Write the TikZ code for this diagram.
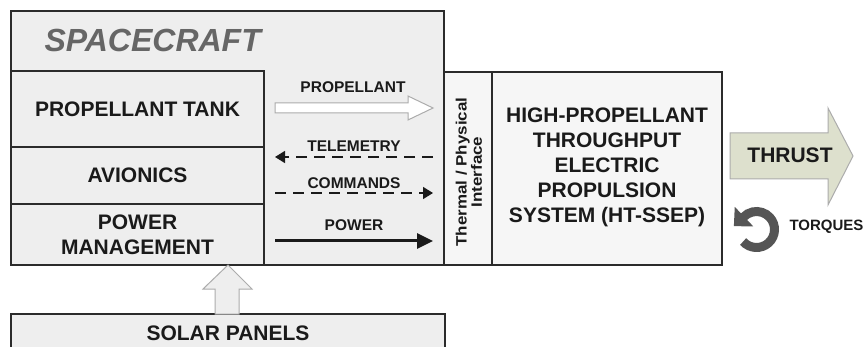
\documentclass[tikz,border=0pt]{standalone}
\usepackage{fontspec}
\setmainfont{Liberation Sans}
\usetikzlibrary{arrows.meta}
\definecolor{boxfill}{HTML}{EEEEEE}
\definecolor{boxfilltwo}{HTML}{F6F6F6}
\definecolor{edge}{HTML}{2B2B2B}
\definecolor{ink}{HTML}{1A1A1A}
\definecolor{titlegray}{HTML}{666666}
\definecolor{thrustfill}{HTML}{DDE0CD}
\definecolor{torquegray}{HTML}{555555}
\begin{document}
\begin{tikzpicture}[x=1pt,y=-1pt,
  box/.style={draw=edge, line width=1.4pt, fill=boxfill, inner sep=0pt, outer sep=0pt, anchor=north west},
  lbl/.style={font=\bfseries\fontsize{21}{25}\selectfont, align=center, text=ink},
  flow/.style={font=\bfseries\fontsize{15.5}{18}\selectfont, text=ink},
  hollow/.style={draw=gray!65, line width=1pt, line join=miter},
  dashflow/.style={line width=1.5pt, draw=ink, dash pattern=on 11pt off 7pt},
]
\clip (0,0) rectangle (867,347);
\fill[white] (0,0) rectangle (867,347);

% spacecraft frame
\node[box, minimum width=433, minimum height=254] (sc) at (11,11) {};
\node[anchor=west, font=\bfseries\itshape\fontsize{32}{36}\selectfont, text=titlegray] (sctitle) at (41,40) {SPACECRAFT};

% left subsystems
\node[box, minimum width=253, minimum height=76] (tank) at (11,71) {};
\node[lbl] (tanklbl) at (tank.center) {PROPELLANT TANK};
\node[box, minimum width=253, minimum height=57] (avio) at (11,147) {};
\node[lbl] (aviolbl) at (avio.center) {AVIONICS};
\node[box, minimum width=253, minimum height=61] (pwr) at (11,204) {};
\node[lbl] (pwrlbl) at (pwr.center) {POWER\\MANAGEMENT};

% interface and propulsion system
\node[box, fill=boxfilltwo, minimum width=48, minimum height=193] (therm) at (444,72) {};
\node[rotate=90, font=\bfseries\fontsize{15}{15}\selectfont, text=ink] (thermlbl) at (471,172)
  {\scalebox{1.13}[1]{\begin{tabular}{@{}c@{}}Thermal / Physical\\Interface\end{tabular}}};
\node[box, fill=boxfilltwo, minimum width=230, minimum height=193] (ht) at (492,72) {};
\node[lbl] (htlbl) at (607,167) {HIGH-PROPELLANT\\THROUGHPUT\\ELECTRIC\\PROPULSION\\SYSTEM (HT-SSEP)};

% solar panels
\node[box, minimum width=434, minimum height=60] (solar) at (11,314) {};
\node[lbl] (solarlbl) at (228,333) {SOLAR PANELS};

% flow arrows
\coordinate (propS) at (275,108);
\coordinate (propE) at (433,108);
\draw[hollow, fill=white] (propS) ++(0,-5) -- ++(133,0) -- ++(0,-7) -- (propE)
  -- ++(-25,12) -- ++(0,-7) -- ++(-133,0) -- cycle;
\node[flow] (proplbl) at (353,87) {PROPELLANT};

\coordinate (telS) at (433,157);
\coordinate (telE) at (275,157);
\draw[dashflow, -{Triangle[length=10pt,width=12pt]}] (telS) -- (telE);
\node[flow] (tellbl) at (354,146) {TELEMETRY};

\coordinate (cmdS) at (275,193);
\coordinate (cmdE) at (433,193);
\draw[dashflow, -{Triangle[length=10pt,width=12pt]}] (cmdS) -- (cmdE);
\node[flow] (cmdlbl) at (354,183) {COMMANDS};

\coordinate (pwS) at (275,241);
\coordinate (pwE) at (433,241);
\draw[line width=3pt, draw=ink, -{Triangle[length=16pt,width=15pt]}] (pwS) -- (pwE);
\node[flow] (pwlbl) at (354,225) {POWER};

% solar supply arrow
\draw[hollow, fill=boxfill] (pwr.south -| 228,0) -- (252,289) -- (239,289) -- (239,314)
  -- (215,314) -- (215,289) -- (203,289) -- cycle;

% thrust
\draw[hollow, fill=thrustfill] (730,133) -- (828,133) -- (828,108) -- (853,156)
  -- (828,205) -- (828,179) -- (730,179) -- cycle;
\node[lbl] (thrustlbl) at (790,155) {THRUST};

% torques
\coordinate (tq) at (756.5,229.5);
\draw[torquegray, line width=9pt, -{Triangle[length=14pt,width=26pt]}]
  (tq) ++(-222:18) arc[start angle=-222, end angle=-497, radius=18] -- ++(-9.5,9);
\node[flow, anchor=west, font=\bfseries\fontsize{15}{18}\selectfont] (tqlbl) at (786,227) {TORQUES};
\end{tikzpicture}
\end{document}
